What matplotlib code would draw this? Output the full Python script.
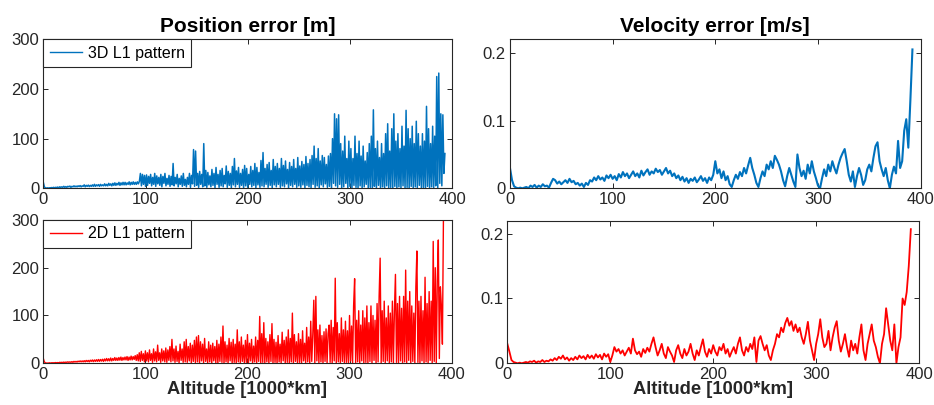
import numpy as np
import matplotlib
matplotlib.use("Agg")
import matplotlib.pyplot as plt

plt.rcParams["font.family"] = ["Liberation Sans", "DejaVu Sans"]

# position error, 3D L1 pattern [m], sampled every 1 (1000*km)
pos_3d = [
    12, 3, 1, 0.5, 1, 0.5, 1, 1, 1.5, 1,
    2, 1, 2, 1.5, 2.5, 1, 3, 2, 3, 2,
    4, 2, 3.5, 2, 4, 3, 4.5, 2, 4, 3,
    5, 3, 4.5, 3, 5, 3.5, 5.5, 3, 5, 4,
    7, 3, 6, 4, 6.5, 3.5, 6, 4, 7, 4,
    8, 4, 7, 5, 7.5, 4, 8, 5, 7, 5,
    9, 5, 8, 5, 10, 6, 9, 5, 10, 6,
    11, 6, 10, 7, 12, 6, 11, 7, 12, 7,
    12, 7, 11, 8, 13, 7, 12, 8, 13, 8,
    12, 8, 13, 9, 14, 30, 5, 28, 8, 26,
    4, 27, 6, 24, 10, 28, 5, 22, 8, 30,
    4, 25, 9, 22, 6, 28, 3, 24, 10, 30,
    5, 20, 8, 26, 4, 24, 7, 50, 5, 22,
    9, 28, 3, 20, 8, 25, 4, 30, 6, 18,
    3, 22, 8, 30, 2, 26, 9, 78, 4, 75,
    6, 30, 2, 34, 8, 28, 3, 90, 5, 36,
    2, 32, 7, 25, 3, 38, 6, 30, 1, 42,
    8, 28, 2, 36, 5, 40, 3, 26, 9, 45,
    2, 34, 6, 30, 1, 44, 7, 60, 3, 35,
    8, 42, 2, 30, 6, 38, 1, 46, 5, 40,
    2, 28, 8, 44, 3, 36, 6, 50, 1, 42,
    7, 32, 2, 56, 5, 72, 3, 40, 8, 48,
    2, 52, 6, 36, 1, 58, 7, 44, 3, 50,
    8, 40, 2, 60, 5, 46, 3, 55, 9, 38,
    1, 52, 6, 44, 3, 58, 8, 40, 2, 62,
    5, 45, 2, 54, 7, 48, 1, 64, 6, 50,
    3, 58, 1, 66, 8, 85, 2, 60, 5, 80,
    1, 55, 7, 66, 3, 62, 9, 48, 2, 65,
    4, 70, 0, 100, 10, 150, 5, 140, 2, 148,
    8, 90, 0, 75, 3, 105, 10, 60, 0, 95,
    4, 80, 0, 60, 6, 105, 2, 70, 0, 95,
    5, 65, 0, 85, 3, 55, 8, 72, 0, 90,
    2, 105, 0, 158, 4, 80, 0, 95, 6, 62,
    0, 90, 3, 70, 0, 110, 5, 130, 0, 75,
    2, 120, 0, 150, 4, 95, 0, 110, 3, 80,
    0, 125, 5, 85, 0, 157, 2, 120, 0, 100,
    4, 125, 0, 90, 3, 135, 0, 110, 6, 85,
    0, 110, 2, 95, 0, 165, 4, 120, 0, 90,
    3, 125, 0, 105, 5, 225, 0, 232, 10, 150,
    5, 148, 30, 70,
]

# position error, 2D L1 pattern [m], sampled every 1 (1000*km)
pos_2d = [
    10, 3, 1, 0.5, 0.5, 0.5, 1, 0.5, 1, 1,
    1, 1, 1.5, 1, 1.5, 1, 2, 1.5, 2, 1.5,
    2.5, 1.5, 2.5, 2, 3, 2, 3, 2, 3.5, 2,
    4, 2.5, 4, 2.5, 4.5, 3, 5, 3, 5, 3,
    5.5, 3, 6, 3.5, 6, 3, 6.5, 4, 7, 3.5,
    7, 4, 7.5, 4, 8, 4, 8, 4.5, 8.5, 4,
    9, 5, 10, 5, 9.5, 5, 11, 5, 10, 6,
    12, 6, 11, 6, 12, 6.5, 13, 6, 12, 7,
    13, 7, 14, 6, 13, 7, 15, 7, 14, 8,
    16, 6, 18, 5, 22, 4, 25, 6, 20, 3,
    26, 5, 22, 3, 28, 6, 20, 2, 30, 5,
    24, 3, 38, 6, 22, 2, 30, 5, 26, 3,
    32, 2, 28, 6, 35, 3, 50, 5, 30, 2,
    36, 4, 25, 1, 40, 6, 30, 2, 45, 3,
    50, 2, 35, 5, 42, 0, 38, 4, 48, 1,
    55, 3, 58, 0, 45, 5, 40, 1, 52, 4,
    30, 0, 45, 3, 38, 0, 42, 5, 35, 1,
    48, 0, 40, 4, 55, 2, 78, 0, 45, 3,
    38, 0, 52, 5, 44, 0, 50, 2, 40, 0,
    70, 3, 45, 0, 55, 4, 38, 0, 48, 2,
    60, 0, 42, 5, 50, 0, 36, 3, 55, 0,
    48, 4, 98, 0, 62, 2, 85, 0, 52, 3,
    45, 0, 60, 4, 83, 0, 50, 2, 44, 0,
    58, 3, 40, 0, 65, 5, 48, 0, 55, 2,
    70, 0, 52, 3, 105, 0, 60, 4, 45, 0,
    62, 2, 50, 0, 68, 5, 42, 0, 75, 3,
    55, 0, 88, 4, 60, 132, 0, 140, 5, 70,
    0, 80, 3, 58, 0, 66, 4, 72, 0, 62,
    80, 2, 90, 0, 75, 5, 178, 0, 85, 3,
    62, 0, 95, 4, 70, 0, 88, 2, 68, 0,
    100, 5, 78, 0, 120, 177, 0, 90, 3, 110,
    0, 80, 5, 110, 0, 95, 2, 120, 0, 85,
    4, 120, 0, 100, 6, 90, 0, 125, 3, 140,
    220, 0, 110, 4, 130, 0, 95, 5, 120, 0,
    105, 3, 130, 0, 110, 186, 2, 125, 0, 140,
    5, 115, 0, 140, 3, 195, 0, 130, 6, 150,
    0, 120, 4, 105, 0, 160, 235, 2, 130, 0,
    140, 5, 110, 0, 180, 3, 125, 0, 150, 6,
    130, 0, 255, 4, 200, 0, 175, 258, 10, 160,
    120, 40, 300,
]

# velocity error, 3D L1 pattern [m/s], sampled every 2 (1000*km)
vel_3d = [
    0.030, 0.012, 0.003, 0.001, 0.000, 0.001, 0.000, 0.001, 0.002, 0.000,
    0.004, 0.002, 0.005, 0.001, 0.004, 0.002, 0.006, 0.003, 0.004, 0.001,
    0.008, 0.014, 0.012, 0.007, 0.010, 0.006, 0.009, 0.012, 0.008, 0.014,
    0.009, 0.011, 0.006, 0.008, 0.004, 0.007, 0.002, 0.008, 0.005, 0.012,
    0.010, 0.016, 0.012, 0.018, 0.013, 0.016, 0.011, 0.019, 0.015, 0.020,
    0.014, 0.018, 0.012, 0.021, 0.016, 0.024, 0.018, 0.022, 0.015, 0.020,
    0.025, 0.018, 0.022, 0.016, 0.026, 0.019, 0.024, 0.028, 0.020, 0.025,
    0.022, 0.029, 0.024, 0.027, 0.020, 0.025, 0.030, 0.022, 0.026, 0.018,
    0.022, 0.015, 0.019, 0.012, 0.017, 0.010, 0.015, 0.008, 0.014, 0.011,
    0.016, 0.009, 0.013, 0.018, 0.011, 0.015, 0.008, 0.016, 0.012, 0.020,
    0.040, 0.022, 0.028, 0.015, 0.025, 0.012, 0.018, 0.006, 0.002, 0.012,
    0.020, 0.014, 0.024, 0.018, 0.030, 0.022, 0.034, 0.045, 0.030, 0.020,
    0.008, 0.002, 0.015, 0.025, 0.018, 0.035, 0.028, 0.040, 0.030, 0.048,
    0.042, 0.035, 0.025, 0.012, 0.003, 0.018, 0.030, 0.020, 0.010, 0.002,
    0.050, 0.030, 0.018, 0.026, 0.014, 0.035, 0.022, 0.040, 0.025, 0.015,
    0.004, 0.000, 0.015, 0.028, 0.018, 0.035, 0.025, 0.040, 0.030, 0.022,
    0.035, 0.045, 0.052, 0.058, 0.040, 0.020, 0.010, 0.025, 0.002, 0.018,
    0.030, 0.020, 0.005, 0.012, 0.028, 0.035, 0.025, 0.045, 0.062, 0.068,
    0.040, 0.028, 0.018, 0.030, 0.012, 0.000, 0.020, 0.032, 0.022, 0.070,
    0.030, 0.040, 0.085, 0.102, 0.060, 0.130, 0.205,
]

# velocity error, 2D L1 pattern [m/s], sampled every 2 (1000*km)
vel_2d = [
    0.030, 0.018, 0.005, 0.002, 0.001, 0.000, 0.001, 0.000, 0.001, 0.002,
    0.001, 0.003, 0.002, 0.004, 0.001, 0.003, 0.002, 0.005, 0.002, 0.004,
    0.003, 0.006, 0.004, 0.008, 0.005, 0.010, 0.007, 0.012, 0.006, 0.009,
    0.004, 0.008, 0.005, 0.010, 0.006, 0.012, 0.008, 0.011, 0.006, 0.013,
    0.008, 0.012, 0.007, 0.014, 0.009, 0.013, 0.006, 0.015, 0.010, 0.014,
    0.002, 0.012, 0.025, 0.018, 0.022, 0.015, 0.020, 0.012, 0.018, 0.024,
    0.015, 0.038, 0.020, 0.014, 0.018, 0.010, 0.022, 0.016, 0.024, 0.018,
    0.030, 0.040, 0.025, 0.012, 0.020, 0.030, 0.015, 0.008, 0.025, 0.018,
    0.012, 0.002, 0.020, 0.028, 0.015, 0.008, 0.022, 0.012, 0.018, 0.030,
    0.015, 0.005, 0.020, 0.012, 0.025, 0.037, 0.018, 0.010, 0.022, 0.015,
    0.028, 0.018, 0.012, 0.025, 0.020, 0.030, 0.015, 0.022, 0.010, 0.018,
    0.025, 0.015, 0.030, 0.040, 0.020, 0.012, 0.025, 0.018, 0.030, 0.022,
    0.040, 0.002, 0.035, 0.042, 0.030, 0.020, 0.028, 0.012, 0.005, 0.020,
    0.030, 0.045, 0.040, 0.055, 0.048, 0.062, 0.070, 0.058, 0.065, 0.050,
    0.060, 0.048, 0.055, 0.040, 0.030, 0.045, 0.064, 0.035, 0.020, 0.005,
    0.030, 0.045, 0.068, 0.040, 0.025, 0.030, 0.050, 0.020, 0.040, 0.055,
    0.065, 0.035, 0.018, 0.030, 0.045, 0.025, 0.010, 0.035, 0.020, 0.030,
    0.015, 0.040, 0.060, 0.020, 0.005, 0.030, 0.045, 0.060, 0.035, 0.025,
    0.010, 0.000, 0.030, 0.045, 0.085, 0.060, 0.035, 0.020, 0.060, 0.000,
    0.025, 0.040, 0.100, 0.090, 0.110, 0.150, 0.207,
]

alt_pos_3d = np.arange(len(pos_3d))
alt_pos_2d = np.arange(len(pos_2d))
alt_vel_3d = np.arange(len(vel_3d)) * 2
alt_vel_2d = np.arange(len(vel_2d)) * 2

blue = "#0072BD"
red = "#FF0000"
dark = "#262626"

fig = plt.figure(figsize=(9.34, 4.05), dpi=100)
ax1 = fig.add_axes([0.0464, 0.535, 0.4376, 0.368])
ax2 = fig.add_axes([0.546, 0.535, 0.4397, 0.368])
ax3 = fig.add_axes([0.0464, 0.103, 0.4371, 0.354])
ax4 = fig.add_axes([0.5432, 0.103, 0.4408, 0.352])

ax1.plot(alt_pos_3d, pos_3d, color=blue, lw=1.1, label="3D L1 pattern")
ax2.plot(alt_vel_3d, vel_3d, color=blue, lw=1.5)
ax3.plot(alt_pos_2d, pos_2d, color=red, lw=1.0, label="2D L1 pattern")
ax4.plot(alt_vel_2d, vel_2d, color=red, lw=1.3)

for ax in (ax1, ax3):
    ax.set_ylim(0, 300)
    ax.set_yticks([0, 100, 200, 300])
    ax.set_yticklabels(["0", "100", "200", "300"])
    leg = ax.legend(loc="upper left", borderaxespad=0, fontsize=11.5,
                    fancybox=False, framealpha=1, handlelength=2.0,
                    borderpad=0.4, handletextpad=0.4)
    leg.get_frame().set_edgecolor(dark)
    leg.get_frame().set_linewidth(0.8)
    for h in leg.get_lines():
        h.set_linewidth(1.0)

for ax in (ax2, ax4):
    ax.set_ylim(0, 0.22)
    ax.set_yticks([0, 0.1, 0.2])
    ax.set_yticklabels(["0", "0.1", "0.2"])

for ax in (ax1, ax2, ax3, ax4):
    ax.set_xlim(0, 400)
    ax.set_xticks([0, 100, 200, 300, 400])
    ax.set_xticklabels(["0", "100", "200", "300", "400"])
    ax.tick_params(direction="in", top=True, right=True, length=3.5,
                   width=0.7, labelsize=12, colors=dark, pad=3)
    for s in ax.spines.values():
        s.set_linewidth(0.8)
        s.set_color(dark)

ax1.set_title("Position error [m]", fontsize=15, fontweight="bold", pad=5)
ax2.set_title("Velocity error [m/s]", fontsize=15, fontweight="bold", pad=5)
ax3.set_xlabel("Altitude [1000*km]", fontsize=13.2, fontweight="bold",
               labelpad=-1, color=dark)
ax4.set_xlabel("Altitude [1000*km]", fontsize=13.2, fontweight="bold",
               labelpad=-1, color=dark)

fig.savefig("out.png", dpi=100)
